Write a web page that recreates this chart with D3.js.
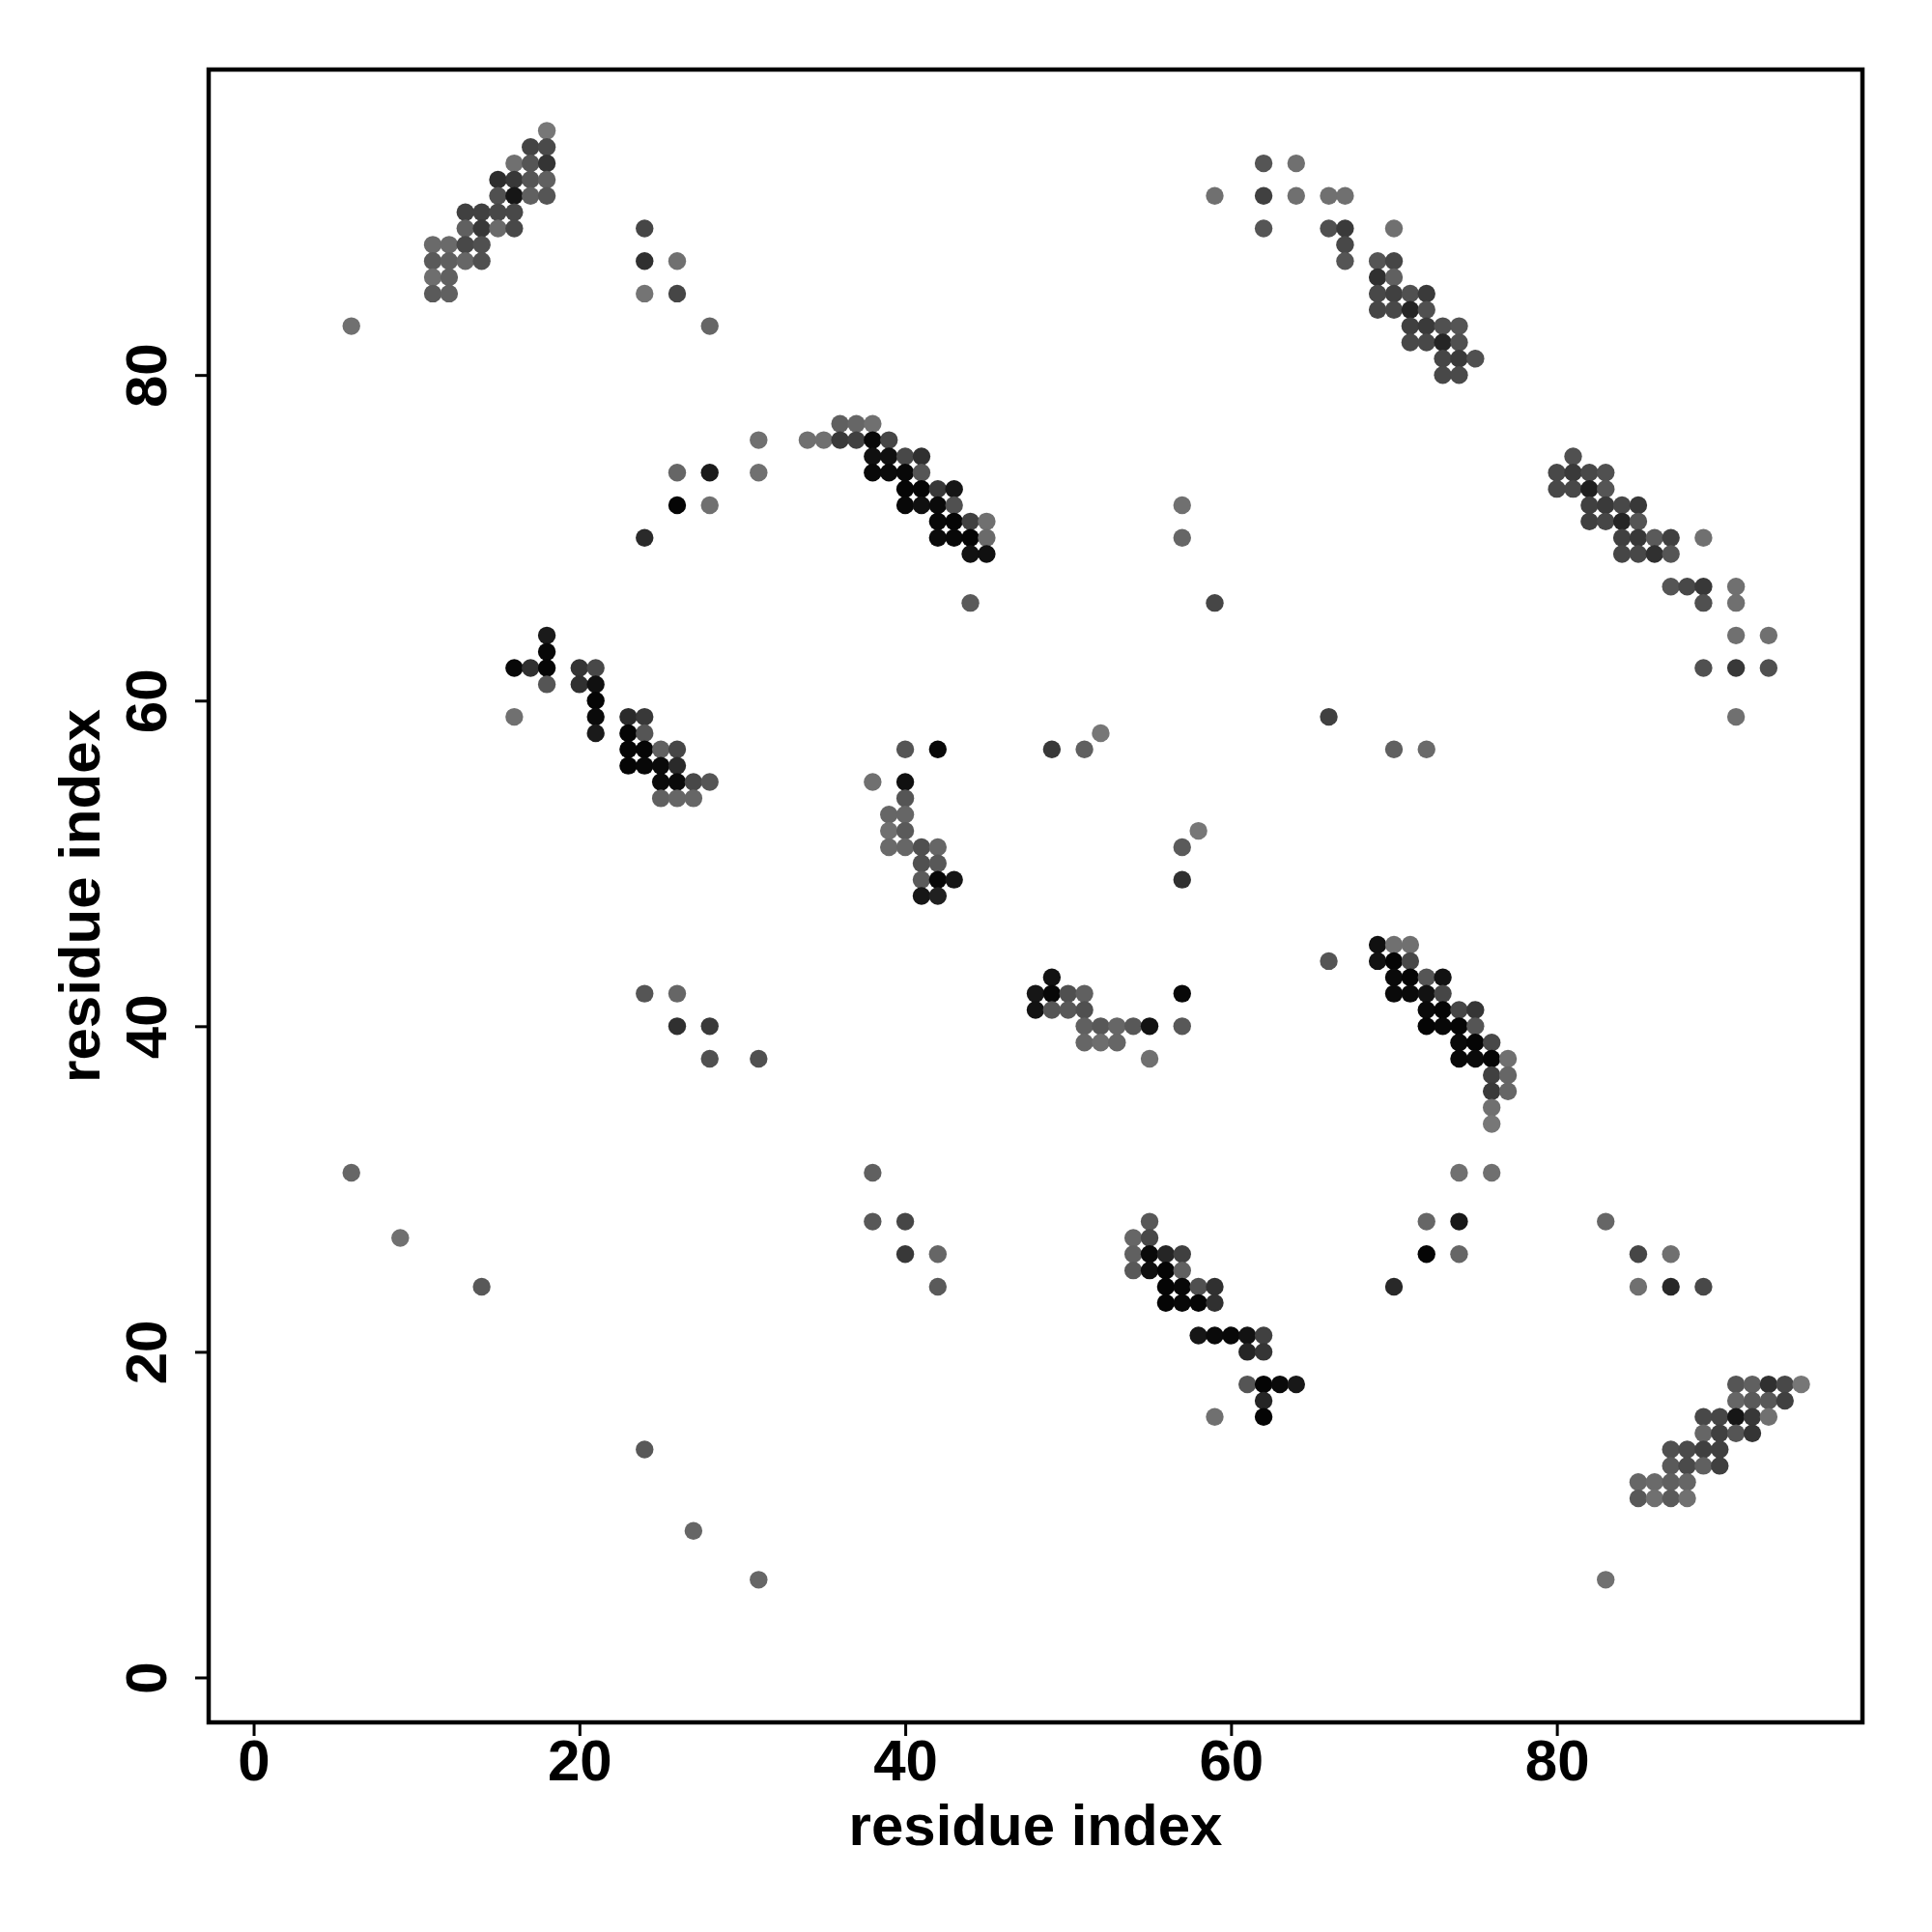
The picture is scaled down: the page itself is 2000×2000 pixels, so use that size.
<!DOCTYPE html>
<html>
<head>
<meta charset="utf-8">
<script src="https://cdn.jsdelivr.net/npm/d3@7"></script>
<style>
  html, body { margin: 0; padding: 0; background: #ffffff; }
  svg { display: block; }
  text { font-family: "Liberation Sans", Arial, Helvetica, sans-serif; font-weight: bold; }
</style>
</head>
<body>
<svg id="chart" width="2000" height="2000"></svg>
<script>
// ---- Data: [residue i, residue j, contact probability] ----
const clusterA = [
  [18,95,.01],
  [17,94,.43],[18,94,.38],
  [16,93,.07],[17,93,.29],[18,93,.57],
  [15,92,.62],[16,92,.53],[17,92,.29],[18,92,.20],
  [15,91,.33],[16,91,.82],[17,91,.20],[18,91,.29],
  [13,90,.47],[14,90,.47],[15,90,.40],[16,90,.40],
  [13,89,.20],[14,89,.53],[15,89,.12],[16,89,.40],
  [11,88,.12],[12,88,.12],[13,88,.40],[14,88,.33],
  [11,87,.25],[12,87,.20],[13,87,.15],[14,87,.33],
  [11,86,.08],[12,86,.20],
  [11,85,.25],[12,85,.20],
  [6,83,.07]
];
const scatterUL = [
  [24,89,.42],[24,87,.60],[26,87,.07],[24,85,.03],[26,85,.42],[28,83,.15],
  [31,76,.07],[26,74,.15],[28,74,.78],[31,74,.07],[26,72,.96],[28,72,.07],[24,70,.65]
];
const clusterB = [
  [36,77,.20],[37,77,.15],[38,77,.07],
  [34,76,.07],[35,76,.07],[36,76,.52],[37,76,.47],[38,76,.93],[39,76,.42],
  [38,75,.87],[39,75,.87],[40,75,.40],[41,75,.60],
  [38,74,.93],[39,74,.92],[40,74,.93],[41,74,.29],
  [40,73,.96],[41,73,.96],[42,73,.53],[43,73,.82],
  [40,72,.93],[41,72,.87],[42,72,.92],[43,72,.33],
  [42,71,.93],[43,71,.96],[44,71,.47],[45,71,.07],
  [42,70,.92],[43,70,.93],[44,70,.96],[45,70,.12],
  [44,69,.85],[45,69,.87],
  [44,66,.25],
  [57,72,.07],[57,70,.15],[59,66,.42]
];
const clusterC = [
  [18,64,.78],[18,63,.93],
  [16,62,.93],[17,62,.60],[18,62,.96],[20,62,.56],[21,62,.40],
  [18,61,.29],[20,61,.60],[21,61,.87],
  [21,60,.96],
  [16,59,.07],[21,59,.92],[23,59,.65],[24,59,.53],
  [21,58,.78],[23,58,.96],[24,58,.29],
  [23,57,.96],[24,57,.96],[25,57,.20],[26,57,.42],
  [23,56,.96],[24,56,.93],[25,56,.92],[26,56,.65],
  [25,55,.92],[26,55,.92],[27,55,.40],[28,55,.29],
  [25,54,.20],[26,54,.15],[27,54,.15]
];
const clusterD = [
  [40,57,.29],[42,57,.93],[49,57,.53],[51,57,.20],[52,58,.01],
  [38,55,.07],[40,55,.87],
  [40,54,.29],
  [39,53,.15],[40,53,.15],
  [39,52,.07],[40,52,.25],[58,52,.01],
  [39,51,.12],[40,51,.15],[41,51,.33],[42,51,.15],[57,51,.25],
  [41,50,.33],[42,50,.27],
  [41,49,.25],[42,49,.93],[43,49,.82],[57,49,.60],
  [41,48,.82],[42,48,.73]
];
const clusterE = [
  [49,43,.85],
  [48,42,.82],[49,42,.93],[50,42,.33],[51,42,.20],[57,42,.93],
  [48,41,.85],[49,41,.29],[50,41,.27],[51,41,.33],
  [51,40,.20],[52,40,.27],[53,40,.15],[54,40,.27],[55,40,.85],[57,40,.27],
  [51,39,.15],[52,39,.08],[53,39,.15],
  [55,38,.07],
  [66,44,.29]
];
const scatterLeft = [
  [24,42,.29],[26,42,.15],[26,40,.60],[28,40,.52],[28,38,.33],[31,38,.33],
  [6,31,.15],[9,27,.07],[14,24,.27],
  [38,31,.20],[38,28,.27],[40,28,.42],[40,26,.53],[42,26,.15],[42,24,.25],
  [24,14,.27],[27,9,.15],[31,6,.15]
];
const clusterF = [
  [69,45,.87],[70,45,.07],[71,45,.07],
  [69,44,.85],[70,44,.96],[71,44,.40],
  [70,43,.92],[71,43,.96],[72,43,.29],[73,43,.85],
  [70,42,.92],[71,42,.92],[72,42,.85],[73,42,.42],
  [72,41,.92],[73,41,.96],[74,41,.42],[75,41,.56],
  [72,40,.96],[73,40,.93],[74,40,.96],[75,40,.29],
  [74,39,.92],[75,39,.96],[76,39,.40],
  [74,38,.93],[75,38,.92],[76,38,.96],[77,38,.07],
  [76,37,.47],[77,37,.15],
  [76,36,.52],[77,36,.15],
  [76,35,.07],[76,34,.01],
  [74,31,.07],[76,31,.07],
  [72,28,.15],[74,28,.80],[72,26,.96],[74,26,.15],[70,24,.67],
  [83,28,.15],[85,26,.42],[87,26,.07],[85,24,.07],[87,24,.67],[89,24,.40]
];
const clusterG = [
  [55,28,.27],
  [54,27,.15],[55,27,.40],
  [54,26,.20],[55,26,.92],[56,26,.69],[57,26,.47],
  [54,25,.27],[55,25,.87],[56,25,.96],[57,25,.20],
  [56,24,.96],[57,24,.93],[58,24,.33],[59,24,.60],
  [56,23,.96],[57,23,.93],[58,23,.96],[59,23,.60],
  [58,21,.82],[59,21,.92],[60,21,.93],[61,21,.85],[62,21,.47],
  [61,20,.69],[62,20,.56],
  [61,18,.29],[62,18,.96],[63,18,.92],[64,18,.80],
  [62,17,.69],
  [59,16,.07],[62,16,.96]
];
const clusterH = [
  [91,18,.29],[92,18,.20],[93,18,.60],[94,18,.40],[95,18,.01],
  [91,17,.15],[92,17,.25],[93,17,.27],[94,17,.47],
  [89,16,.40],[90,16,.42],[91,16,.82],[92,16,.53],[93,16,.07],
  [89,15,.15],[90,15,.47],[91,15,.29],[92,15,.56],
  [87,14,.33],[88,14,.38],[89,14,.47],[90,14,.47],
  [87,13,.25],[88,13,.38],[89,13,.20],[90,13,.47],
  [85,12,.15],[86,12,.12],[87,12,.20],[88,12,.15],
  [85,11,.27],[86,11,.07],[87,11,.25],[88,11,.07],
  [83,6,.07]
];
const clusterI = [
  [62,93,.29],[64,93,.07],
  [59,91,.07],[62,91,.47],[64,91,.07],[66,91,.07],[67,91,.07],
  [62,89,.29],[66,89,.33],[67,89,.52],[70,89,.07],
  [67,88,.40],
  [67,87,.29],[69,87,.29],[70,87,.42],
  [69,86,.60],[70,86,.20],
  [69,85,.40],[70,85,.47],[71,85,.33],[72,85,.52],
  [69,84,.42],[70,84,.40],[71,84,.69],[72,84,.33],
  [71,83,.47],[72,83,.52],[73,83,.33],[74,83,.29],
  [71,82,.40],[72,82,.40],[73,82,.69],[74,82,.33],
  [73,81,.42],[74,81,.52],[75,81,.33],
  [73,80,.40],[74,80,.38]
];
const clusterJ = [
  [81,75,.33],
  [80,74,.40],[81,74,.52],[82,74,.40],[83,74,.33],
  [80,73,.40],[81,73,.40],[82,73,.73],[83,73,.29],
  [82,72,.47],[83,72,.52],[84,72,.40],[85,72,.53],
  [82,71,.47],[83,71,.42],[84,71,.69],[85,71,.29],
  [84,70,.47],[85,70,.53],[86,70,.25],[87,70,.47],[89,70,.07],
  [84,69,.42],[85,69,.40],[86,69,.60],[87,69,.29],
  [87,67,.29],[88,67,.40],[89,67,.53],[91,67,.07],
  [89,66,.33],[91,66,.07],
  [91,64,.07],[93,64,.07],
  [89,62,.33],[91,62,.53],[93,62,.33],
  [66,59,.47],[91,59,.07],
  [70,57,.20],[72,57,.12]
];
const tickValues = [0, 20, 40, 60, 80];
const axisTitleX = "residue index";
const axisTitleY = "residue index";

(function () {
  // ---- Layout ----
  const mLeft = 216, mRight = 1928, mTop = 72, mBottom = 1783;
  const domain = [-2.76, 98.76];
  const fontSize = 60;
  const ff = "'Liberation Sans', Arial, Helvetica, sans-serif";

  const svg = d3.select("#chart");
  svg.append("rect").attr("width", 2000).attr("height", 2000).attr("fill", "#ffffff");

  const x = d3.scaleLinear().domain(domain).range([mLeft, mRight]);
  const y = d3.scaleLinear().domain(domain).range([mBottom, mTop]);
  const shade = d3.scaleLinear().domain([0, 1]).range(["#787878", "#000000"]);

  const contacts = [].concat(clusterA, scatterUL, clusterB, clusterC, clusterD, clusterE,
    scatterLeft, clusterF, clusterG, clusterH, clusterI, clusterJ);

  svg.append("g")
    .selectAll("circle")
    .data(contacts)
    .join("circle")
    .attr("cx", d => x(d[0]))
    .attr("cy", d => y(d[1]))
    .attr("r", 9.2)
    .attr("fill", d => shade(d[2]));

  // frame
  svg.append("rect")
    .attr("x", mLeft).attr("y", mTop)
    .attr("width", mRight - mLeft).attr("height", mBottom - mTop)
    .attr("fill", "none").attr("stroke", "#000").attr("stroke-width", 4.5);

  // x axis
  const gx = svg.append("g").attr("transform", `translate(0,${mBottom})`)
    .call(d3.axisBottom(x).tickValues(tickValues).tickSize(14).tickSizeOuter(0).tickFormat(d3.format("d")));
  gx.select(".domain").remove();
  gx.selectAll(".tick line").attr("stroke", "#000").attr("stroke-width", 3);
  gx.selectAll(".tick text")
    .attr("y", 60).attr("dy", null)
    .attr("font-size", fontSize).attr("fill", "#000")
    .attr("font-family", ff).attr("font-weight", "bold");

  // y axis
  const gy = svg.append("g").attr("transform", `translate(${mLeft},0)`)
    .call(d3.axisLeft(y).tickValues(tickValues).tickSize(14).tickSizeOuter(0).tickFormat(d3.format("d")));
  gy.select(".domain").remove();
  gy.selectAll(".tick line").attr("stroke", "#000").attr("stroke-width", 3);
  gy.selectAll(".tick text")
    .attr("x", null).attr("dy", null)
    .attr("text-anchor", "middle")
    .attr("transform", `translate(${172 - mLeft},0) rotate(-90)`)
    .attr("font-size", fontSize).attr("fill", "#000")
    .attr("font-family", ff).attr("font-weight", "bold");

  // titles
  svg.append("text")
    .attr("x", (mLeft + mRight) / 2).attr("y", 1910)
    .attr("text-anchor", "middle").attr("font-size", fontSize).attr("fill", "#000")
    .text(axisTitleX);
  svg.append("text")
    .attr("transform", `translate(103,${(mTop + mBottom) / 2}) rotate(-90)`)
    .attr("text-anchor", "middle").attr("font-size", fontSize).attr("fill", "#000")
    .text(axisTitleY);
})();
</script>
</body>
</html>
